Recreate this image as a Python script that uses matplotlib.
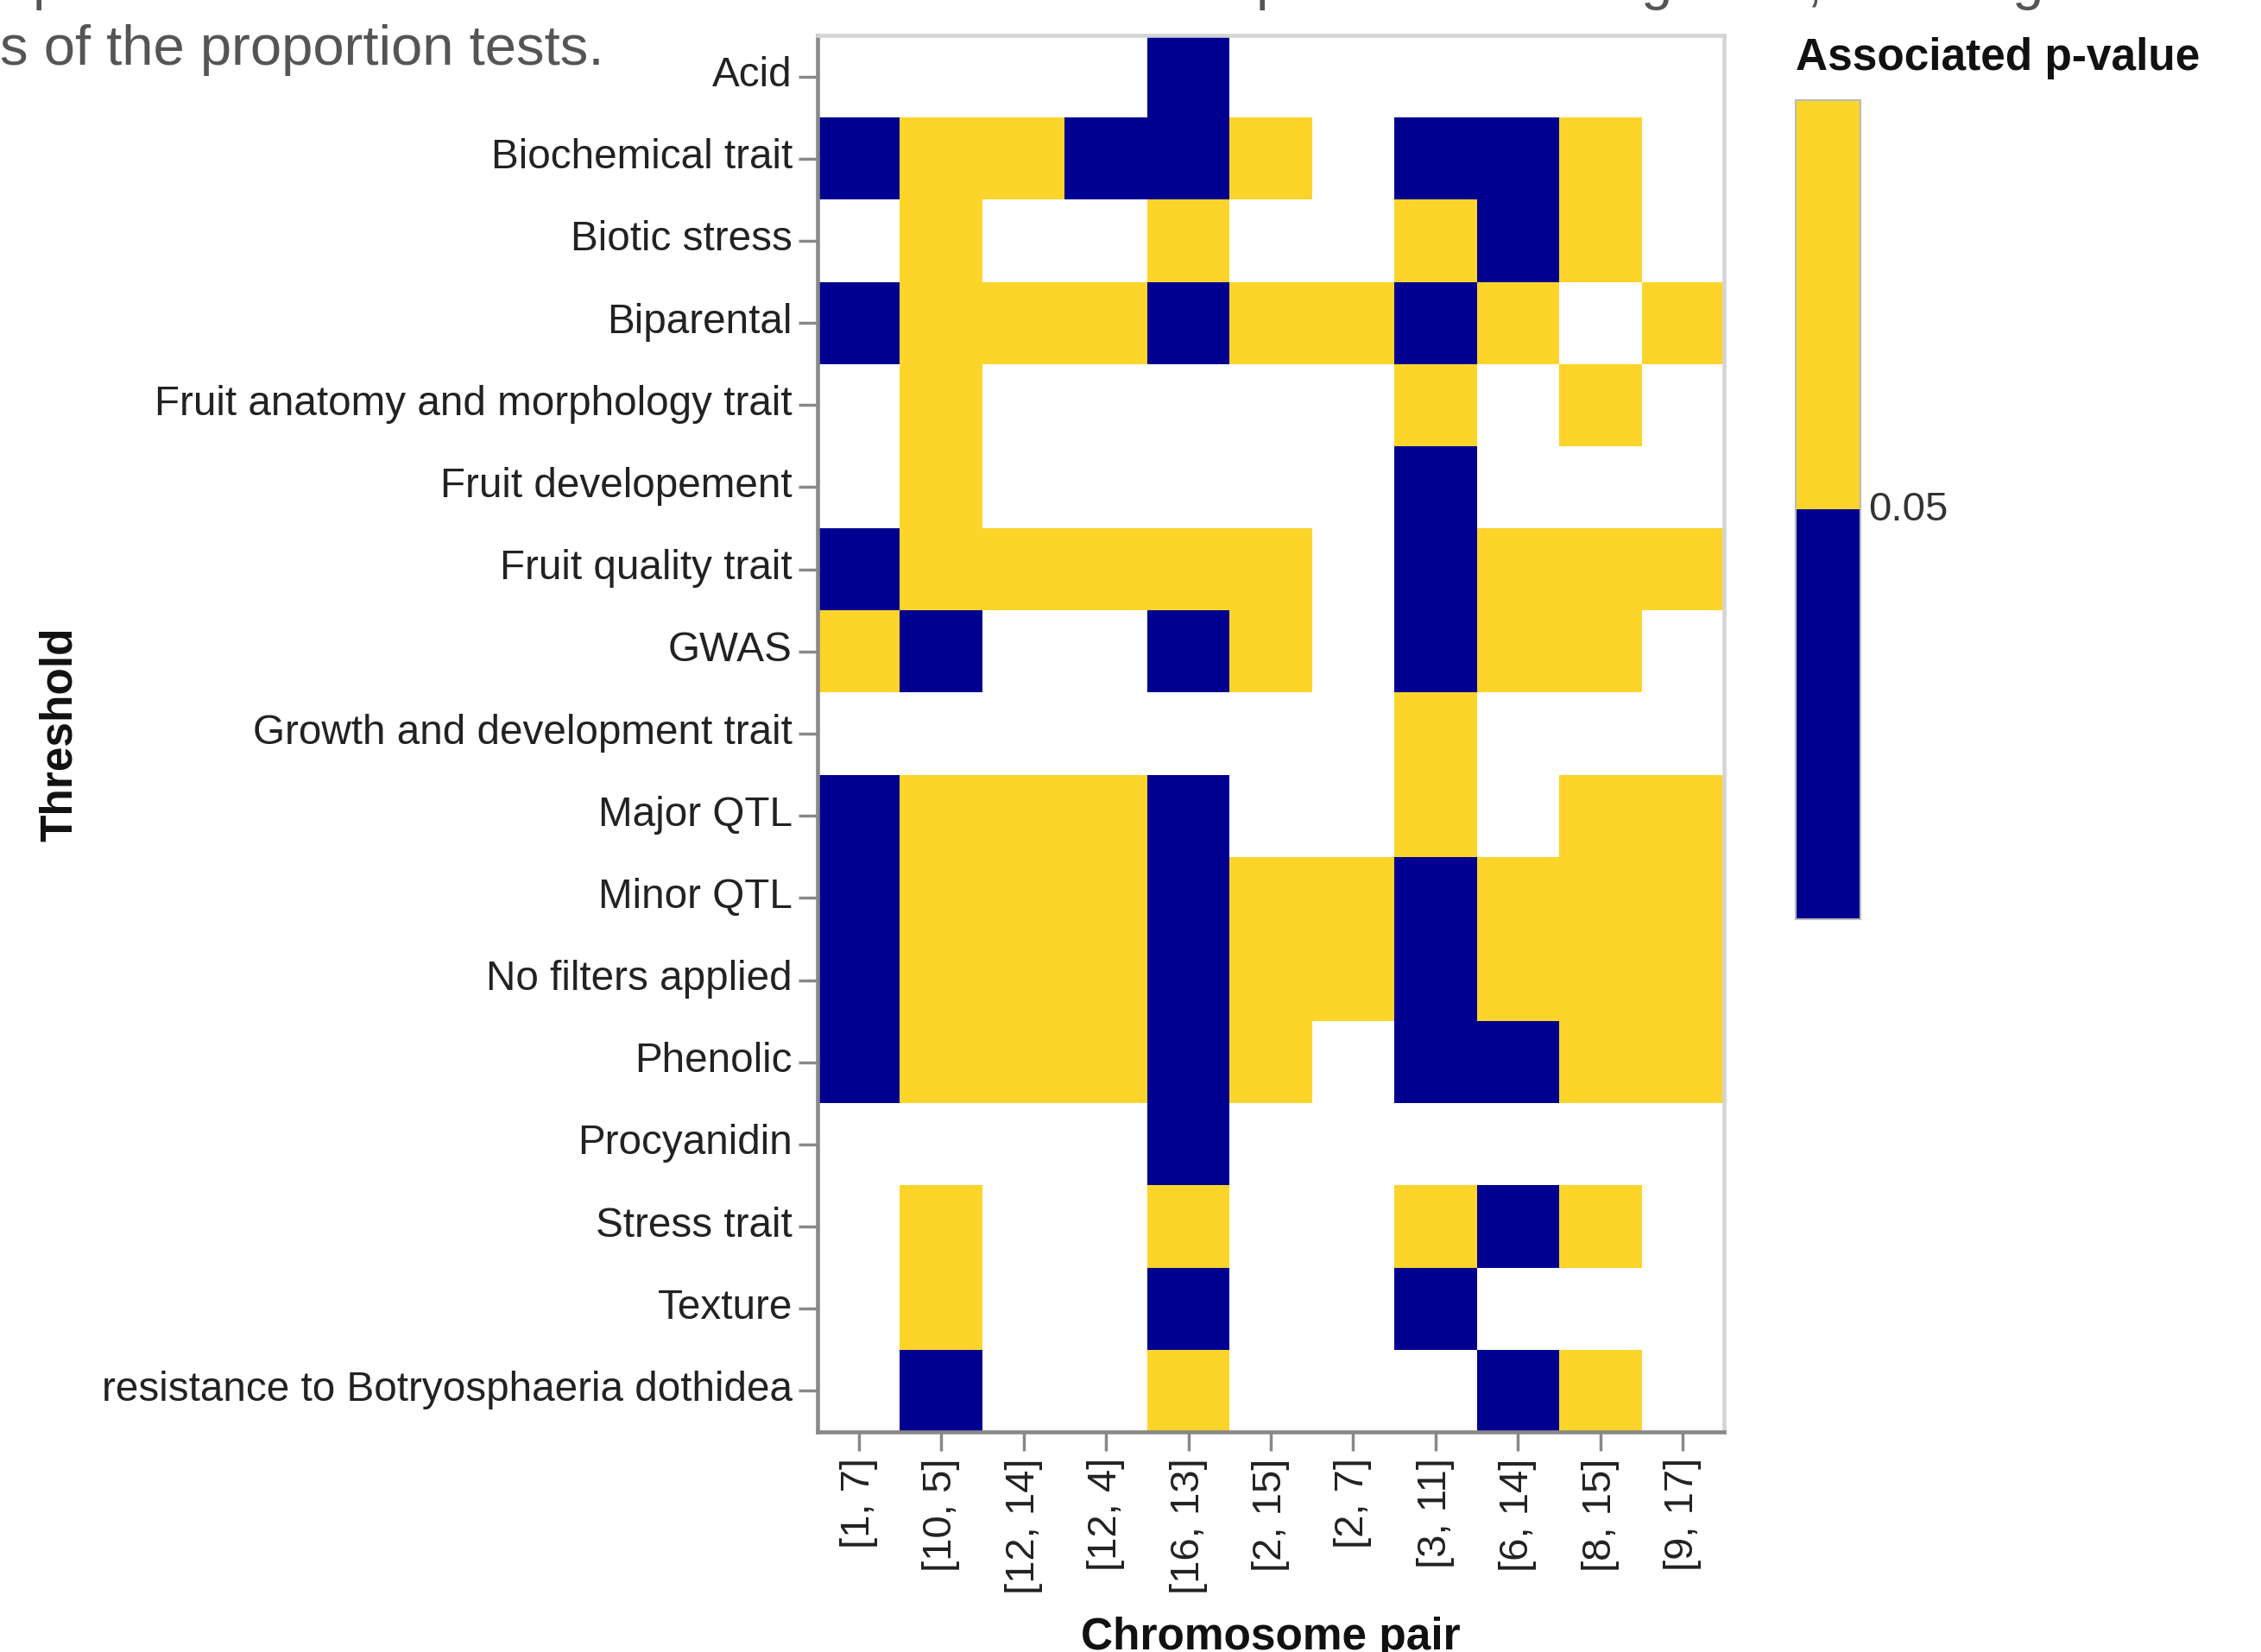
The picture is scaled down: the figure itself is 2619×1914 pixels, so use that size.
import numpy as np
import matplotlib
matplotlib.use('Agg')
import matplotlib.pyplot as plt
import matplotlib.transforms as mtransforms
from matplotlib.colors import ListedColormap

plt.rcParams['font.family'] = ['Liberation Sans', 'DejaVu Sans']

thresholds = ['Acid', 'Biochemical trait', 'Biotic stress', 'Biparental',
              'Fruit anatomy and morphology trait', 'Fruit developement',
              'Fruit quality trait', 'GWAS', 'Growth and development trait',
              'Major QTL', 'Minor QTL', 'No filters applied', 'Phenolic',
              'Procyanidin', 'Stress trait', 'Texture',
              'resistance to Botryosphaeria dothidea']
pairs = ['[1, 7]', '[10, 5]', '[12, 14]', '[12, 4]', '[16, 13]', '[2, 15]',
         '[2, 7]', '[3, 11]', '[6, 14]', '[8, 15]', '[9, 17]']
# N: p < 0.05, Y: p >= 0.05, . : no test
cells = ["....N......",
         "NYYNNY.NNY.",
         ".Y..Y..YNY.",
         "NYYYNYYNY.Y",
         ".Y.....Y.Y.",
         ".Y.....N...",
         "NYYYYY.NYYY",
         "YN..NY.NYY.",
         ".......Y...",
         "NYYYN..Y.YY",
         "NYYYNYYNYYY",
         "NYYYNYYNYYY",
         "NYYYNY.NNYY",
         "....N......",
         ".Y..Y..YNY.",
         ".Y..N..N...",
         ".N..Y...NY."]
code = {'N': 0.0, 'Y': 1.0, '.': np.nan}
navy = '#000090'
yellow = '#fdd42a'

W, H = 2619, 1915
fig = plt.figure(figsize=(W / 100, H / 100), dpi=100)

def fx(px):
    return px / W

def fy(py):
    return 1 - py / H

# cut-off caption text from the page
fig.text(0, fy(75), 's of the proportion tests.', fontsize=47, color='#555555',
         ha='left', va='baseline')
for ch, x in [('p', 38), ('p', 1455), ('g', 1900), (',', 2092), ('g', 2330)]:
    fig.text(fx(x), fy(-1), ch, fontsize=47, color='#555555', ha='left', va='baseline')

ax = fig.add_axes([fx(947), fy(1660), fx(1997) - fx(947), fy(42) - fy(1660)])
Z = np.array([[code[c] for c in row] for row in cells])
cmap = ListedColormap([navy, yellow])
ax.pcolormesh(np.arange(len(pairs) + 1), np.arange(len(thresholds) + 1),
              np.ma.masked_invalid(Z), cmap=cmap, vmin=0, vmax=1)
ax.set_xlim(0, len(pairs))
ax.set_ylim(len(thresholds), 0)
ax.set_xticks(np.arange(len(pairs)) + 0.5)
ax.set_xticklabels(pairs, rotation=90, ha='center', va='top')
ax.set_yticks(np.arange(len(thresholds)) + 0.5)
ax.set_yticklabels(thresholds)
ax.tick_params(axis='both', length=16, width=2.5, color='#888888', pad=5,
               labelcolor='#222222')
ax.tick_params(axis='y', labelsize=34.3)
ax.tick_params(axis='x', labelsize=34)
up = mtransforms.ScaledTranslation(0, 5 / 72, fig.dpi_scale_trans)
for lab in ax.get_yticklabels():
    lab.set_transform(lab.get_transform() + up)
for s in ['left', 'bottom']:
    ax.spines[s].set_color('#888888')
    ax.spines[s].set_linewidth(3.3)
for s in ['top', 'right']:
    ax.spines[s].set_color('#d4d4d4')
    ax.spines[s].set_linewidth(3.3)

fig.text(fx(69), fy(851), 'Threshold', rotation=90, fontsize=37, fontweight='bold',
         ha='center', va='center', color='#111111')
fig.text(fx(1472), fy(1911), 'Chromosome pair', fontsize=37, fontweight='bold',
         ha='center', va='baseline', color='#111111')

# legend gradient
cax = fig.add_axes([fx(2080), fy(1066), fx(2155) - fx(2080), fy(117) - fy(1066)])
cax.imshow(np.array([[1.0], [0.0]]), cmap=cmap, vmin=0, vmax=1, aspect='auto',
           extent=[0, 1, 0, 1])
cax.set_xticks([])
cax.set_yticks([])
for s in cax.spines.values():
    s.set_color('#bbbbbb')
    s.set_linewidth(1.5)
fig.text(fx(2080), fy(67), 'Associated p-value', fontsize=37, fontweight='bold',
         ha='left', va='center', color='#111111')
fig.text(fx(2164), fy(591), '0.05', fontsize=34, ha='left', va='center', color='#333333')

fig.savefig('out.png', dpi=100)
